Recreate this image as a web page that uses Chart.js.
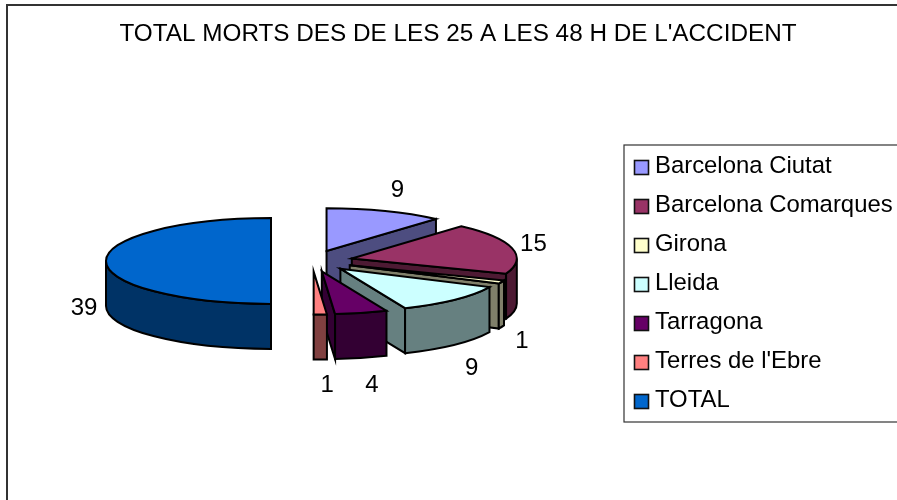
<!DOCTYPE html>
<html>
<head>
<meta charset="utf-8">
<style>html,body{margin:0;padding:0;background:#fff;overflow:hidden}canvas{display:block}</style>
<script src="https://cdn.jsdelivr.net/npm/chart.js@4"></script>
</head>
<body>
<canvas id="c" width="897" height="500"></canvas>
<script>
const categories = ["Barcelona Ciutat","Barcelona Comarques","Girona","Lleida","Tarragona","Terres de l'Ebre","TOTAL"];
const values = [9,15,1,9,4,1,39];
const topColors = ["#9999FF","#993366","#FFFFCC","#CCFFFF","#660066","#FF8080","#0066CC"];
const sideColors = ["#4D4D80","#4D1A33","#80806A","#668080","#330033","#804040","#003366"];
const titleText = "TOTAL MORTS DES DE LES 25 A LES 48 H DE L'ACCIDENT";

const FONT = "'Liberation Sans', Arial, sans-serif";
const SQUASH = 0.26, DEPTH = 45, OUT = 2, INK = "#000", EXPLODE = 41;

function swatch(color){
  const s = document.createElement('canvas'); s.width = 40; s.height = 40;
  const g = s.getContext('2d');
  g.fillStyle = color; g.strokeStyle = "#111"; g.lineWidth = 1.6;
  g.fillRect(14.5,14.5,14,14); g.strokeRect(14.5,14.5,14,14);
  return s;
}

function geom(arc){
  const p = arc.getProps(['x','y','startAngle','endAngle','outerRadius']);
  const mid = (p.startAngle + p.endAngle)/2;
  const cx = p.x + Math.cos(mid)*EXPLODE;
  const cy = p.y + Math.sin(mid)*EXPLODE*SQUASH;
  return {x:p.x,y:p.y,cx,cy,rx:p.outerRadius,ry:p.outerRadius*SQUASH,s:p.startAngle,e:p.endAngle,mid};
}

function face(ctx,g,a,color){
  const x = g.cx+g.rx*Math.cos(a), y = g.cy+g.ry*Math.sin(a);
  ctx.beginPath();
  ctx.moveTo(g.cx,g.cy); ctx.lineTo(x,y); ctx.lineTo(x,y+DEPTH); ctx.lineTo(g.cx,g.cy+DEPTH); ctx.closePath();
  ctx.fillStyle = color; ctx.fill(); ctx.stroke();
}

const pie3d = {
  id:'pie3d',
  afterLayout(chart){
    const a = chart.chartArea;
    a.left=0; a.right=624; a.top=22; a.bottom=500; a.width=624; a.height=478;
    const t = chart.titleBlock;
    t.left=9.5; t.right=906.5; t.top=20; t.bottom=t.top+t.height;
    const l = chart.legend, pad = l.options.labels.padding;
    const lw = l.width, lh = l.height;
    l.left = 637-pad; l.right = l.left+lw;
    l.top = 166 - l.options.labels.font.size/2 - pad; l.bottom = l.top+lh;
  },
  beforeDraw(chart){
    const c = chart.ctx;
    c.save();
    c.strokeStyle="#333"; c.lineWidth=2;
    c.strokeRect(7,5,1000,1000);
    c.lineWidth=1.2;
    c.strokeRect(624,145,400,277);
    c.restore();
  },
  beforeDatasetDraw(chart,args){
    const ctx = chart.ctx, arcs = args.meta.data;
    ctx.save();
    ctx.lineWidth = OUT; ctx.strokeStyle = INK; ctx.lineJoin='miter'; ctx.miterLimit=8;
    arcs.forEach((arc,i)=>{
      const g = geom(arc), side = sideColors[i];
      if (Math.cos(g.s) < -0.001) face(ctx,g,g.s,side);
      if (Math.cos(g.e) > 0.001) face(ctx,g,g.e,side);
      const a0 = Math.max(g.s,0), a1 = Math.min(g.e,Math.PI);
      if (a1 > a0){
        ctx.beginPath();
        ctx.ellipse(g.cx,g.cy,g.rx,g.ry,0,a0,a1,false);
        ctx.ellipse(g.cx,g.cy+DEPTH,g.rx,g.ry,0,a1,a0,true);
        ctx.closePath();
        ctx.fillStyle = side; ctx.fill(); ctx.stroke();
      }
      ctx.save();
      ctx.translate(g.cx,g.cy); ctx.scale(1,SQUASH); ctx.translate(-g.x,-g.y);
      arc.draw(ctx);
      ctx.restore();
      ctx.beginPath();
      ctx.moveTo(g.cx,g.cy);
      ctx.ellipse(g.cx,g.cy,g.rx,g.ry,0,g.s,g.e,false);
      ctx.closePath();
      ctx.stroke();
    });
    ctx.restore();
    return false;
  },
  afterDraw(chart){
    const ctx = chart.ctx, arcs = chart.getDatasetMeta(0).data;
    ctx.save();
    ctx.fillStyle="#000"; ctx.font="24px "+FONT; ctx.textAlign='center'; ctx.textBaseline='middle';
    arcs.forEach((arc,i)=>{
      const g = geom(arc);
      const ex = g.cx+g.rx*Math.cos(g.mid), ey = g.cy+g.ry*Math.sin(g.mid);
      const sn = Math.sin(g.mid), cs = Math.cos(g.mid);
      const drop = sn>-0.01 ? DEPTH : 0;
      const extraX = 6*Math.pow(sn,4);
      const extraY = 2 + 8*Math.max(sn,0)*Math.max(cs,0);
      ctx.fillText(String(values[i]), ex+22*cs+extraX, ey+24*sn+drop+extraY);
    });
    ctx.restore();
  }
};

new Chart(document.getElementById('c'),{
  type:'pie',
  data:{labels:categories,datasets:[{
    data:values,backgroundColor:topColors,borderWidth:0,radius:165
  }]},
  options:{
    responsive:false,animation:false,
    layout:{padding:0},
    plugins:{
      tooltip:{enabled:false},
      title:{display:true,text:titleText,color:"#000",padding:0,font:{family:FONT,size:24.3,weight:'normal'}},
      legend:{
        display:true,position:'right',align:'start',
        labels:{
          color:"#000",font:{family:FONT,size:23.9},padding:15.1,
          boxWidth:6,boxHeight:15,usePointStyle:true,pointStyleWidth:6,
          generateLabels(chart){
            return chart.data.labels.map((t,i)=>({text:t,index:i,fillStyle:topColors[i],strokeStyle:"#000",lineWidth:1,pointStyle:swatch(topColors[i]),hidden:false}));
          }
        }
      }
    }
  },
  plugins:[pie3d]
});
</script>
</body>
</html>
